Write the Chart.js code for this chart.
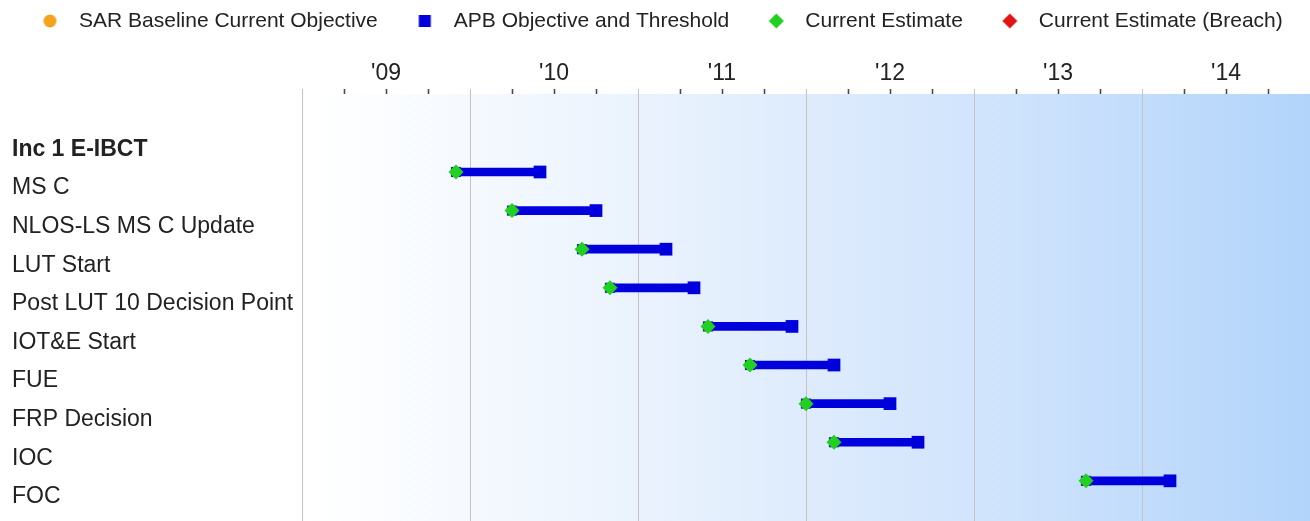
<!DOCTYPE html>
<html>
<head>
<meta charset="utf-8">
<title>Inc 1 E-IBCT milestones</title>
<script src="https://cdn.jsdelivr.net/npm/chart.js@4.4.1/dist/chart.umd.min.js"></script>
<style>
  html, body { margin: 0; padding: 0; background: #ffffff; }
  canvas { display: block; }
</style>
</head>
<body>
<canvas id="chart" width="1310" height="521"></canvas>
<script>
// Rows of the schedule (first row is the program heading)
const categories = [
  'Inc 1 E-IBCT',
  'MS C',
  'NLOS-LS MS C Update',
  'LUT Start',
  'Post LUT 10 Decision Point',
  'IOT&E Start',
  'FUE',
  'FRP Decision',
  'IOC',
  'FOC'
];

// APB objective dates (year-month)
const objectiveDates = [null, '2009-12', '2010-04', '2010-09', '2010-11', '2011-06', '2011-09', '2012-01', '2012-03', '2013-09'];
// APB threshold dates
const thresholdDates = [null, '2010-06', '2010-10', '2011-03', '2011-05', '2011-12', '2012-03', '2012-07', '2012-09', '2014-03'];
// Current estimates
const currentEstimateDates = [null, '2009-12', '2010-04', '2010-09', '2010-11', '2011-06', '2011-09', '2012-01', '2012-03', '2013-09'];
// Breached estimates and SAR baseline objectives (none plotted)
const breachDates = [];
const sarBaselineDates = [];

// Time axis
const firstYear = 2009;
const lastYear = 2015;
const yearLabels = ["'09", "'10", "'11", "'12", "'13", "'14"];

const FONT = "'Liberation Sans', Arial, Helvetica, sans-serif";
const TEXT = '#222222';
const BLUE = '#0000dc';
const NAVY = '#1c2c90';
const GREEN = '#22d022';
const ORANGE = '#f5a31e';
const RED = '#e01414';
const GRID = '#c3c3c3';

function toYear(s) {
  const [y, m] = s.split('-').map(Number);
  return y + (m - 1) / 12;
}
function pointsFrom(dates) {
  return dates.map((d, i) => (d ? { x: toYear(d), y: i } : null)).filter(Boolean);
}
const apbBars = categories
  .map((_, i) => (objectiveDates[i] ? { y: i, x: [toYear(objectiveDates[i]), toYear(thresholdDates[i])] } : null))
  .filter(Boolean);

const quarterTicks = [];
for (let v = firstYear; v <= lastYear + 1e-9; v += 0.25) quarterTicks.push(+v.toFixed(2));

const isYear = v => Math.abs(v - Math.round(v)) < 1e-6;
const tickIsYear = c => !!(c && c.tick && isYear(c.tick.value));
function yearLabel(v) {
  const base = Math.floor(v + 1e-9);
  if (Math.abs(v - base - 0.5) < 1e-6) return yearLabels[base - firstYear] || '';
  return '';
}
// Keep the plot area flush with the canvas edges
function noEdgePadding(s) {
  s.paddingLeft = 0; s.paddingRight = 0; s.paddingTop = 0; s.paddingBottom = 0;
}

// Legend symbols: a wide transparent box with the marker near its right side
const BOX_W = 62, MARK_X = 43.5;
function legendMarker(draw) {
  const c = document.createElement('canvas');
  c.width = BOX_W; c.height = 18;
  const g = c.getContext('2d');
  draw(g, MARK_X, 9);
  return c;
}
const diamond = (color) => legendMarker((g, x, y) => {
  g.fillStyle = color; g.beginPath();
  g.moveTo(x, y - 7.5); g.lineTo(x + 7.5, y); g.lineTo(x, y + 7.5); g.lineTo(x - 7.5, y);
  g.closePath(); g.fill();
});
const legendEntries = [
  { text: 'SAR Baseline Current Objective', datasetIndex: 2, color: ORANGE,
    marker: legendMarker((g, x, y) => { g.fillStyle = ORANGE; g.beginPath(); g.arc(x, y, 6.5, 0, Math.PI * 2); g.fill(); }) },
  { text: 'APB Objective and Threshold', datasetIndex: 5, color: BLUE,
    marker: legendMarker((g, x, y) => { g.fillStyle = BLUE; g.fillRect(x - 6, y - 6, 12, 12); }) },
  { text: 'Current Estimate', datasetIndex: 0, color: GREEN, marker: diamond(GREEN) },
  { text: 'Current Estimate (Breach)', datasetIndex: 1, color: RED, marker: diamond(RED) }
];

// Plot background: horizontal white-to-blue wash
const plotBackground = {
  id: 'plotBackground',
  beforeDraw(chart) {
    const { ctx, chartArea: a } = chart;
    const grad = ctx.createLinearGradient(a.left, 0, a.right, 0);
    grad.addColorStop(0, '#ffffff');
    grad.addColorStop(0.04, '#fdfeff');
    grad.addColorStop(0.35, '#e9f2fd');
    grad.addColorStop(0.7, '#cfe3fc');
    grad.addColorStop(1, '#b2d4fa');
    ctx.save();
    ctx.fillStyle = grad;
    ctx.fillRect(a.left, a.top, a.right - a.left, a.bottom - a.top);
    ctx.restore();
  }
};

new Chart(document.getElementById('chart'), {
  type: 'bar',
  data: {
    datasets: [
      { type: 'scatter', label: 'Current Estimate', data: pointsFrom(currentEstimateDates),
        xAxisID: 'x', yAxisID: 'y', pointStyle: 'rectRot', pointRadius: 7.5,
        backgroundColor: GREEN, borderWidth: 0, order: 0 },
      { type: 'scatter', label: 'Current Estimate (Breach)', data: pointsFrom(breachDates),
        xAxisID: 'x', yAxisID: 'y', pointStyle: 'rectRot', pointRadius: 7.5,
        backgroundColor: RED, borderWidth: 0, order: 1 },
      { type: 'scatter', label: 'SAR Baseline Current Objective', data: pointsFrom(sarBaselineDates),
        xAxisID: 'x', yAxisID: 'y', pointStyle: 'circle', pointRadius: 6,
        backgroundColor: ORANGE, borderWidth: 0, order: 2 },
      { type: 'scatter', label: 'APB Objective', data: pointsFrom(objectiveDates),
        xAxisID: 'x', yAxisID: 'y', pointStyle: 'rect', pointRadius: 7.2,
        backgroundColor: NAVY, borderWidth: 0, order: 3 },
      { type: 'scatter', label: 'APB Threshold', data: pointsFrom(thresholdDates),
        xAxisID: 'x', yAxisID: 'y', pointStyle: 'rect', pointRadius: 9,
        backgroundColor: BLUE, borderWidth: 0, order: 4 },
      { type: 'bar', label: 'APB Objective and Threshold', data: apbBars, indexAxis: 'y',
        xAxisID: 'x', yAxisID: 'y', backgroundColor: BLUE, borderWidth: 0,
        barThickness: 8, order: 5 }
    ]
  },
  options: {
    responsive: false,
    animation: false,
    events: [],
    layout: { autoPadding: false, padding: { top: 7, left: 3, right: 0, bottom: 0 } },
    scales: {
      x: {
        type: 'linear', position: 'top', min: firstYear, max: lastYear, offset: false,
        afterBuildTicks: s => { s.ticks = quarterTicks.map(v => ({ value: v })); },
        afterFit: s => { s.height = 52.5; noEdgePadding(s); },
        grid: {
          offset: false, drawTicks: true, tickLength: 5, lineWidth: 1,
          color: c => (tickIsYear(c) ? GRID : 'rgba(0,0,0,0)'),
          tickColor: c => (tickIsYear(c) ? GRID : '#4a4a4a'),
          tickWidth: c => (tickIsYear(c) ? 1 : 1.6)
        },
        border: { display: false, color: GRID },
        ticks: {
          autoSkip: false, maxRotation: 0, padding: 2, color: TEXT,
          font: { family: FONT, size: 23 },
          callback: v => yearLabel(v)
        }
      },
      y: {
        type: 'linear', position: 'left', reverse: true, min: -1.02, max: 10.04, weight: 0,
        offset: false, beginAtZero: false,
        afterBuildTicks: s => { s.ticks = categories.map((_, i) => ({ value: i })); },
        afterFit: s => { s.width = 290; noEdgePadding(s); },
        grid: { display: false, offset: false },
        border: { display: false },
        ticks: {
          autoSkip: false, crossAlign: 'far', labelOffset: 16, padding: 0, color: TEXT,
          font: c => ({ family: FONT, size: 23, weight: (c && c.tick && c.tick.value === 0) ? 'bold' : 'normal' }),
          callback: v => categories[v] || ''
        }
      },
      pad: {
        type: 'linear', position: 'left', weight: 5, display: true, offset: false,
        grid: { display: false }, border: { display: false }, ticks: { display: false },
        afterFit: s => { s.width = 9; noEdgePadding(s); }
      }
    },
    plugins: {
      tooltip: { enabled: false },
      legend: {
        position: 'top', align: 'start',
        labels: {
          usePointStyle: true, pointStyleWidth: BOX_W, padding: 3.5, color: TEXT,
          font: { family: FONT, size: 21 },
          generateLabels: () => legendEntries.map(e => ({
            text: e.text, pointStyle: e.marker, fillStyle: e.color, strokeStyle: e.color,
            lineWidth: 0, hidden: false, datasetIndex: e.datasetIndex, fontColor: TEXT
          }))
        }
      }
    }
  },
  plugins: [plotBackground]
});
</script>
</body>
</html>
